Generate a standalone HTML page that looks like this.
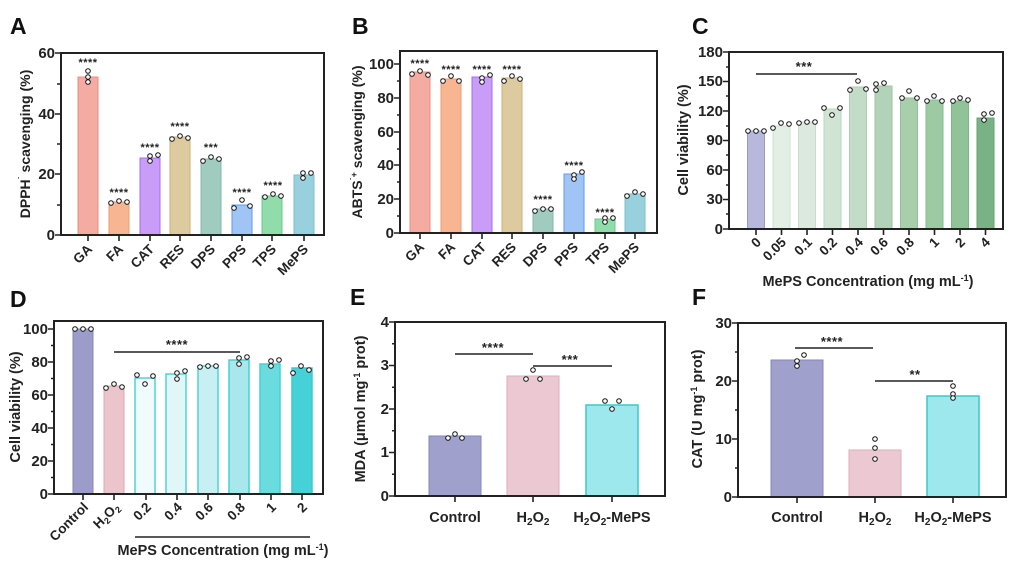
<!DOCTYPE html>
<html><head><meta charset="utf-8"><style>
body{margin:0;background:#fff}
svg{display:block;font-family:"Liberation Sans",Arial,sans-serif;font-weight:bold}
.ax{fill:none;stroke:#222;stroke-width:2}
.tk{stroke:#222;stroke-width:1.6}
.tl{font-size:15px;text-anchor:end;fill:#222}
.xl{font-size:13.5px;fill:#222}
.tt{font-size:14px;fill:#222;text-anchor:middle}
.pl{font-size:23px;fill:#111}
.st{font-size:11px;fill:#222;text-anchor:middle;letter-spacing:0.5px}
.d{fill:#fff;stroke:#111;stroke-width:1}
.sg{stroke:#222;stroke-width:1.5}
</style></head><body>
<svg width="1024" height="571" viewBox="0 0 1024 571">
<text class="pl" x="10" y="34">A</text>
<text class="pl" x="352" y="34">B</text>
<text class="pl" x="692" y="34">C</text>
<text class="pl" x="10" y="307">D</text>
<text class="pl" x="350" y="305">E</text>
<text class="pl" x="692" y="305">F</text>

<!-- ===== Panel A ===== -->
<g>
<rect x="78" y="77" width="20" height="158" fill="#f4aba2" stroke="#e88c82"/>
<rect x="109" y="202" width="20" height="33" fill="#f8b592" stroke="#ee9a6e"/>
<rect x="140" y="158" width="20" height="77" fill="#c99cf8" stroke="#a56cf0"/>
<rect x="170" y="137" width="20" height="98" fill="#ddca9e" stroke="#cbb27a"/>
<rect x="201" y="159" width="20" height="76" fill="#a0cbbf" stroke="#86b8aa"/>
<rect x="232" y="205" width="20" height="30" fill="#a0c5f5" stroke="#5e9cf0"/>
<rect x="262" y="196" width="20" height="39" fill="#90dcaa" stroke="#6cc88c"/>
<rect x="294" y="175" width="20" height="60" fill="#98d1dd" stroke="#7cbfcd"/>
<circle class="d" cx="88" cy="71" r="2.3"/><circle class="d" cx="88" cy="77" r="2.3"/><circle class="d" cx="88" cy="82" r="2.3"/>
<circle class="d" cx="111" cy="203" r="2.3"/><circle class="d" cx="119" cy="201" r="2.3"/><circle class="d" cx="127" cy="202" r="2.3"/>
<circle class="d" cx="150" cy="156" r="2.3"/><circle class="d" cx="150" cy="161" r="2.3"/><circle class="d" cx="158" cy="155" r="2.3"/>
<circle class="d" cx="172" cy="139" r="2.3"/><circle class="d" cx="180" cy="136" r="2.3"/><circle class="d" cx="188" cy="138" r="2.3"/>
<circle class="d" cx="203" cy="161" r="2.3"/><circle class="d" cx="211" cy="157" r="2.3"/><circle class="d" cx="219" cy="159" r="2.3"/>
<circle class="d" cx="234" cy="208" r="2.3"/><circle class="d" cx="242" cy="200" r="2.3"/><circle class="d" cx="250" cy="206" r="2.3"/>
<circle class="d" cx="265" cy="197" r="2.3"/><circle class="d" cx="273" cy="194" r="2.3"/><circle class="d" cx="281" cy="196" r="2.3"/>
<circle class="d" cx="303" cy="173" r="2.3"/><circle class="d" cx="303" cy="178" r="2.3"/><circle class="d" cx="311" cy="173" r="2.3"/>
<text class="st" x="88" y="66">****</text>
<text class="st" x="119" y="196">****</text>
<text class="st" x="150" y="151">****</text>
<text class="st" x="180" y="130">****</text>
<text class="st" x="211" y="151">***</text>
<text class="st" x="242" y="196">****</text>
<text class="st" x="273" y="189">****</text>
<rect class="ax" x="61" y="53" width="263" height="182"/>
<path class="tk" d="M55 53H61M55 114H61M55 174H61M55 235H61M57 84H61M57 144H61M57 205H61M88 235V241M119 235V241M150 235V241M180 235V241M211 235V241M242 235V241M272 235V241M304 235V241"/>
<text class="tl" x="55" y="58">60</text><text class="tl" x="55" y="119">40</text><text class="tl" x="55" y="179">20</text><text class="tl" x="55" y="240">0</text>
<g class="xl" text-anchor="end">
<text transform="translate(93,250) rotate(-45)">GA</text>
<text transform="translate(124,250) rotate(-45)">FA</text>
<text transform="translate(155,250) rotate(-45)">CAT</text>
<text transform="translate(185,250) rotate(-45)">RES</text>
<text transform="translate(216,250) rotate(-45)">DPS</text>
<text transform="translate(247,250) rotate(-45)">PPS</text>
<text transform="translate(277,250) rotate(-45)">TPS</text>
<text transform="translate(309,250) rotate(-45)">MePS</text>
</g>
<text class="tt" transform="translate(30,144) rotate(-90)">DPPH<tspan dy="-5" font-size="9">˙</tspan><tspan dy="5"> scavenging (%)</tspan></text>
</g>

<!-- ===== Panel B ===== -->
<g>
<rect x="410" y="72" width="20" height="161" fill="#f4aba2" stroke="#e88c82"/>
<rect x="441" y="79" width="20" height="154" fill="#f8b592" stroke="#ee9a6e"/>
<rect x="472" y="77" width="20" height="156" fill="#c99cf8" stroke="#a56cf0"/>
<rect x="502" y="78" width="20" height="155" fill="#ddca9e" stroke="#cbb27a"/>
<rect x="533" y="209" width="20" height="24" fill="#a0cbbf" stroke="#86b8aa"/>
<rect x="564" y="174" width="20" height="59" fill="#a0c5f5" stroke="#5e9cf0"/>
<rect x="595" y="219" width="20" height="14" fill="#90dcaa" stroke="#6cc88c"/>
<rect x="625" y="194" width="20" height="39" fill="#98d1dd" stroke="#7cbfcd"/>
<circle class="d" cx="412" cy="74" r="2.3"/><circle class="d" cx="420" cy="71" r="2.3"/><circle class="d" cx="428" cy="75" r="2.3"/>
<circle class="d" cx="443" cy="81" r="2.3"/><circle class="d" cx="451" cy="76" r="2.3"/><circle class="d" cx="459" cy="81" r="2.3"/>
<circle class="d" cx="482" cy="78" r="2.3"/><circle class="d" cx="482" cy="82" r="2.3"/><circle class="d" cx="490" cy="75" r="2.3"/>
<circle class="d" cx="504" cy="81" r="2.3"/><circle class="d" cx="512" cy="76" r="2.3"/><circle class="d" cx="520" cy="79" r="2.3"/>
<circle class="d" cx="535" cy="211" r="2.3"/><circle class="d" cx="543" cy="209" r="2.3"/><circle class="d" cx="551" cy="209" r="2.3"/>
<circle class="d" cx="574" cy="175" r="2.3"/><circle class="d" cx="574" cy="179" r="2.3"/><circle class="d" cx="582" cy="172" r="2.3"/>
<circle class="d" cx="605" cy="218" r="2.3"/><circle class="d" cx="605" cy="222" r="2.3"/><circle class="d" cx="613" cy="218" r="2.3"/>
<circle class="d" cx="627" cy="196" r="2.3"/><circle class="d" cx="635" cy="192" r="2.3"/><circle class="d" cx="643" cy="194" r="2.3"/>
<text class="st" x="420" y="67">****</text>
<text class="st" x="451" y="73">****</text>
<text class="st" x="482" y="73">****</text>
<text class="st" x="512" y="73">****</text>
<text class="st" x="543" y="203">****</text>
<text class="st" x="574" y="169">****</text>
<text class="st" x="605" y="216">****</text>
<rect class="ax" x="400" y="51" width="257" height="182"/>
<path class="tk" d="M394 64H400M394 98H400M394 132H400M394 165H400M394 199H400M394 233H400M397 81H400M397 115H400M397 149H400M397 182H400M397 216H400M420 233V239M451 233V239M482 233V239M512 233V239M543 233V239M574 233V239M605 233V239M635 233V239"/>
<text class="tl" x="394" y="69">100</text><text class="tl" x="394" y="103">80</text><text class="tl" x="394" y="137">60</text><text class="tl" x="394" y="170">40</text><text class="tl" x="394" y="204">20</text><text class="tl" x="394" y="238">0</text>
<g class="xl" text-anchor="end">
<text transform="translate(425,248) rotate(-45)">GA</text>
<text transform="translate(456,248) rotate(-45)">FA</text>
<text transform="translate(487,248) rotate(-45)">CAT</text>
<text transform="translate(517,248) rotate(-45)">RES</text>
<text transform="translate(548,248) rotate(-45)">DPS</text>
<text transform="translate(579,248) rotate(-45)">PPS</text>
<text transform="translate(610,248) rotate(-45)">TPS</text>
<text transform="translate(640,248) rotate(-45)">MePS</text>
</g>
<text class="tt" transform="translate(362,142) rotate(-90)">ABTS<tspan dy="-5" font-size="9">˙+</tspan><tspan dy="5"> scavenging (%)</tspan></text>
</g>

<!-- ===== Panel C ===== -->
<g>
<rect x="747.5" y="131" width="17" height="98" fill="#b8b8dc" stroke="#9a9ac8"/>
<rect x="773" y="126" width="17" height="103" fill="#e3efe5" stroke="#cfe1d3"/>
<rect x="798.5" y="122" width="17" height="107" fill="#dbe9de" stroke="#c8dccc"/>
<rect x="824" y="109" width="17" height="120" fill="#d0e4d4" stroke="#bcd6c1"/>
<rect x="849.5" y="87" width="17" height="142" fill="#c3dcc7" stroke="#aecfb3"/>
<rect x="875" y="86" width="17" height="143" fill="#b2d3b7" stroke="#9cc6a2"/>
<rect x="900.5" y="98" width="17" height="131" fill="#a8ceac" stroke="#92c198"/>
<rect x="926" y="100" width="17" height="129" fill="#9dcaa3" stroke="#87bd8f"/>
<rect x="951.5" y="101" width="17" height="128" fill="#91c399" stroke="#7bb684"/>
<rect x="977" y="118" width="17" height="111" fill="#79b284" stroke="#65a372"/>
<circle class="d" cx="748" cy="131" r="2.3"/><circle class="d" cx="756" cy="131" r="2.3"/><circle class="d" cx="764" cy="131" r="2.3"/>
<circle class="d" cx="773" cy="128" r="2.3"/><circle class="d" cx="781" cy="123" r="2.3"/><circle class="d" cx="789" cy="124" r="2.3"/>
<circle class="d" cx="799" cy="123" r="2.3"/><circle class="d" cx="807" cy="122" r="2.3"/><circle class="d" cx="815" cy="122" r="2.3"/>
<circle class="d" cx="824" cy="108" r="2.3"/><circle class="d" cx="832" cy="115" r="2.3"/><circle class="d" cx="840" cy="108" r="2.3"/>
<circle class="d" cx="850" cy="90" r="2.3"/><circle class="d" cx="858" cy="81" r="2.3"/><circle class="d" cx="866" cy="89" r="2.3"/>
<circle class="d" cx="876" cy="90" r="2.3"/><circle class="d" cx="876" cy="84" r="2.3"/><circle class="d" cx="884" cy="83" r="2.3"/>
<circle class="d" cx="902" cy="98" r="2.3"/><circle class="d" cx="909" cy="91" r="2.3"/><circle class="d" cx="917" cy="98" r="2.3"/>
<circle class="d" cx="927" cy="101" r="2.3"/><circle class="d" cx="934" cy="96" r="2.3"/><circle class="d" cx="942" cy="101" r="2.3"/>
<circle class="d" cx="953" cy="101" r="2.3"/><circle class="d" cx="960" cy="98" r="2.3"/><circle class="d" cx="968" cy="100" r="2.3"/>
<circle class="d" cx="984" cy="120" r="2.3"/><circle class="d" cx="984" cy="114" r="2.3"/><circle class="d" cx="992" cy="113" r="2.3"/>
<line class="sg" x1="756" y1="74" x2="857" y2="74"/>
<text class="st" x="804" y="71" style="font-size:13px">***</text>
<rect class="ax" x="729" y="52" width="274" height="177"/>
<path class="tk" d="M723 52H729M723 81.5H729M723 111H729M723 140.5H729M723 170H729M723 199.5H729M723 229H729M726 67H729M726 96H729M726 126H729M726 155H729M726 185H729M726 214H729M756 229V235M781.5 229V235M807 229V235M832.5 229V235M858 229V235M883.5 229V235M909 229V235M934.5 229V235M960 229V235M985.5 229V235"/>
<text class="tl" x="723" y="57">180</text><text class="tl" x="723" y="86">150</text><text class="tl" x="723" y="116">120</text><text class="tl" x="723" y="145">90</text><text class="tl" x="723" y="175">60</text><text class="tl" x="723" y="204">30</text><text class="tl" x="723" y="234">0</text>
<g class="xl" text-anchor="end">
<text transform="translate(762,243) rotate(-45)">0</text>
<text transform="translate(787,243) rotate(-45)">0.05</text>
<text transform="translate(813,243) rotate(-45)">0.1</text>
<text transform="translate(838,243) rotate(-45)">0.2</text>
<text transform="translate(864,243) rotate(-45)">0.4</text>
<text transform="translate(889,243) rotate(-45)">0.6</text>
<text transform="translate(915,243) rotate(-45)">0.8</text>
<text transform="translate(940,243) rotate(-45)">1</text>
<text transform="translate(966,243) rotate(-45)">2</text>
<text transform="translate(991,243) rotate(-45)">4</text>
</g>
<text class="tt" x="868" y="286" style="font-size:14.5px">MePS Concentration (mg mL<tspan dy="-5" font-size="9">-1</tspan><tspan dy="5">)</tspan></text>
<text class="tt" transform="translate(688,140) rotate(-90)" style="font-size:14.5px">Cell viability (%)</text>
</g>

<!-- ===== Panel D ===== -->
<g>
<rect x="73" y="329" width="20" height="165" fill="#9c9cca" stroke="#8484b8"/>
<rect x="104" y="386" width="20" height="108" fill="#ecc4cc" stroke="#dca8b4"/>
<rect x="135" y="378" width="20" height="116" fill="#effbfc" stroke="#4fd4d4" stroke-width="1.5"/>
<rect x="166" y="374" width="20" height="120" fill="#e0f6f7" stroke="#4fd4d4" stroke-width="1.5"/>
<rect x="198" y="366" width="20" height="128" fill="#c8f0f2" stroke="#4fd4d4" stroke-width="1.5"/>
<rect x="229" y="360" width="20" height="134" fill="#a8e8ec" stroke="#44d0d4" stroke-width="1.5"/>
<rect x="260" y="364" width="20" height="130" fill="#6adcdf" stroke="#44d0d4" stroke-width="1.5"/>
<rect x="292" y="368" width="20" height="126" fill="#44d2d8" stroke="#3cc8cc" stroke-width="1.5"/>
<circle class="d" cx="75" cy="329" r="2.3"/><circle class="d" cx="83" cy="329" r="2.3"/><circle class="d" cx="91" cy="329" r="2.3"/>
<circle class="d" cx="106" cy="388" r="2.3"/><circle class="d" cx="114" cy="384" r="2.3"/><circle class="d" cx="122" cy="387" r="2.3"/>
<circle class="d" cx="137" cy="375" r="2.3"/><circle class="d" cx="145" cy="384" r="2.3"/><circle class="d" cx="153" cy="376" r="2.3"/>
<circle class="d" cx="177" cy="373" r="2.3"/><circle class="d" cx="177" cy="379" r="2.3"/><circle class="d" cx="185" cy="371" r="2.3"/>
<circle class="d" cx="200" cy="367" r="2.3"/><circle class="d" cx="208" cy="366" r="2.3"/><circle class="d" cx="216" cy="366" r="2.3"/>
<circle class="d" cx="239" cy="364" r="2.3"/><circle class="d" cx="239" cy="358" r="2.3"/><circle class="d" cx="247" cy="357" r="2.3"/>
<circle class="d" cx="271" cy="366" r="2.3"/><circle class="d" cx="271" cy="361" r="2.3"/><circle class="d" cx="279" cy="360" r="2.3"/>
<circle class="d" cx="293" cy="373" r="2.3"/><circle class="d" cx="301" cy="366" r="2.3"/><circle class="d" cx="309" cy="370" r="2.3"/>
<line class="sg" x1="114" y1="352" x2="240" y2="352"/>
<text class="st" x="177" y="349" style="font-size:13px">****</text>
<rect class="ax" x="54" y="321" width="269" height="173"/>
<path class="tk" d="M48 329H54M48 362H54M48 395H54M48 428H54M48 461H54M48 494H54M51 345.5H54M51 378.5H54M51 411.5H54M51 444.5H54M51 477.5H54M83 494V500M114 494V500M146 494V500M177 494V500M208 494V500M240 494V500M271 494V500M302 494V500"/>
<text class="tl" x="48" y="334">100</text><text class="tl" x="48" y="367">80</text><text class="tl" x="48" y="400">60</text><text class="tl" x="48" y="433">40</text><text class="tl" x="48" y="466">20</text><text class="tl" x="48" y="499">0</text>
<g class="xl" text-anchor="end">
<text transform="translate(89,508) rotate(-45)">Control</text>
<text transform="translate(120,508) rotate(-45)">H<tspan font-size="9" dy="3">2</tspan><tspan dy="-3">O</tspan><tspan font-size="9" dy="3">2</tspan></text>
<text transform="translate(152,508) rotate(-45)">0.2</text>
<text transform="translate(183,508) rotate(-45)">0.4</text>
<text transform="translate(214,508) rotate(-45)">0.6</text>
<text transform="translate(246,508) rotate(-45)">0.8</text>
<text transform="translate(277,508) rotate(-45)">1</text>
<text transform="translate(308,508) rotate(-45)">2</text>
</g>
<line class="sg" x1="135" y1="537" x2="310" y2="537"/>
<text class="tt" x="223" y="555" style="font-size:14.5px">MePS Concentration (mg mL<tspan dy="-5" font-size="9">-1</tspan><tspan dy="5">)</tspan></text>
<text class="tt" transform="translate(20,407) rotate(-90)" style="font-size:14.5px">Cell viability (%)</text>
</g>

<!-- ===== Panel E ===== -->
<g>
<rect x="429" y="436" width="52" height="60" fill="#9fa0cc" stroke="#8686bb"/>
<rect x="507" y="376" width="52" height="120" fill="#ecc9d2" stroke="#dcadba"/>
<rect x="586" y="405" width="52" height="91" fill="#9de8ec" stroke="#3cc8cc" stroke-width="1.5"/>
<circle class="d" cx="448" cy="438" r="2.3"/><circle class="d" cx="455" cy="434" r="2.3"/><circle class="d" cx="462" cy="438" r="2.3"/>
<circle class="d" cx="526" cy="379" r="2.3"/><circle class="d" cx="533" cy="370" r="2.3"/><circle class="d" cx="540" cy="379" r="2.3"/>
<circle class="d" cx="605" cy="401" r="2.3"/><circle class="d" cx="612" cy="409" r="2.3"/><circle class="d" cx="619" cy="401" r="2.3"/>
<line class="sg" x1="455" y1="354" x2="533" y2="354"/>
<text class="st" x="493" y="352" style="font-size:13px">****</text>
<line class="sg" x1="533" y1="366" x2="612" y2="366"/>
<text class="st" x="570" y="364" style="font-size:13px">***</text>
<rect class="ax" x="395" y="322" width="270" height="174"/>
<path class="tk" d="M389 322H395M389 365.5H395M389 409H395M389 452.5H395M389 496H395M392 343.75H395M392 387.25H395M392 430.75H395M392 474.25H395M455 496V502M533 496V502M612 496V502"/>
<text class="tl" x="389" y="327">4</text><text class="tl" x="389" y="370">3</text><text class="tl" x="389" y="414">2</text><text class="tl" x="389" y="457">1</text><text class="tl" x="389" y="501">0</text>
<g class="xl" text-anchor="middle" style="font-size:14.5px">
<text x="455" y="522">Control</text>
<text x="533" y="522">H<tspan font-size="10" dy="3">2</tspan><tspan dy="-3">O</tspan><tspan font-size="10" dy="3">2</tspan></text>
<text x="612" y="522">H<tspan font-size="10" dy="3">2</tspan><tspan dy="-3">O</tspan><tspan font-size="10" dy="3">2</tspan><tspan dy="-3">-MePS</tspan></text>
</g>
<text class="tt" transform="translate(365,409) rotate(-90)" style="font-size:14.5px">MDA (μmol mg<tspan dy="-5" font-size="9">-1</tspan><tspan dy="5"> prot)</tspan></text>
</g>

<!-- ===== Panel F ===== -->
<g>
<rect x="771" y="360" width="52" height="137" fill="#9fa0cc" stroke="#8686bb"/>
<rect x="849" y="450" width="52" height="47" fill="#ecc9d2" stroke="#dcadba"/>
<rect x="927" y="396" width="52" height="101" fill="#9de8ec" stroke="#3cc8cc" stroke-width="1.5"/>
<circle class="d" cx="797" cy="361" r="2.3"/><circle class="d" cx="797" cy="366" r="2.3"/><circle class="d" cx="804" cy="355" r="2.3"/>
<circle class="d" cx="875" cy="439" r="2.3"/><circle class="d" cx="875" cy="448" r="2.3"/><circle class="d" cx="875" cy="459" r="2.3"/>
<circle class="d" cx="953" cy="386" r="2.3"/><circle class="d" cx="953" cy="394" r="2.3"/><circle class="d" cx="953" cy="398" r="2.3"/>
<line class="sg" x1="795" y1="348" x2="873" y2="348"/>
<text class="st" x="832" y="346" style="font-size:13px">****</text>
<line class="sg" x1="875" y1="381" x2="953" y2="381"/>
<text class="st" x="915" y="379" style="font-size:13px">**</text>
<rect class="ax" x="738" y="323" width="268" height="174"/>
<path class="tk" d="M732 323H738M732 381H738M732 439H738M732 497H738M735 352H738M735 410H738M735 468H738M797 497V503M875 497V503M953 497V503"/>
<text class="tl" x="732" y="328">30</text><text class="tl" x="732" y="386">20</text><text class="tl" x="732" y="444">10</text><text class="tl" x="732" y="502">0</text>
<g class="xl" text-anchor="middle" style="font-size:14.5px">
<text x="797" y="522">Control</text>
<text x="875" y="522">H<tspan font-size="10" dy="3">2</tspan><tspan dy="-3">O</tspan><tspan font-size="10" dy="3">2</tspan></text>
<text x="953" y="522">H<tspan font-size="10" dy="3">2</tspan><tspan dy="-3">O</tspan><tspan font-size="10" dy="3">2</tspan><tspan dy="-3">-MePS</tspan></text>
</g>
<text class="tt" transform="translate(702,409) rotate(-90)" style="font-size:14.5px">CAT (U mg<tspan dy="-5" font-size="9">-1</tspan><tspan dy="5"> prot)</tspan></text>
</g>
</svg>
</body></html>
